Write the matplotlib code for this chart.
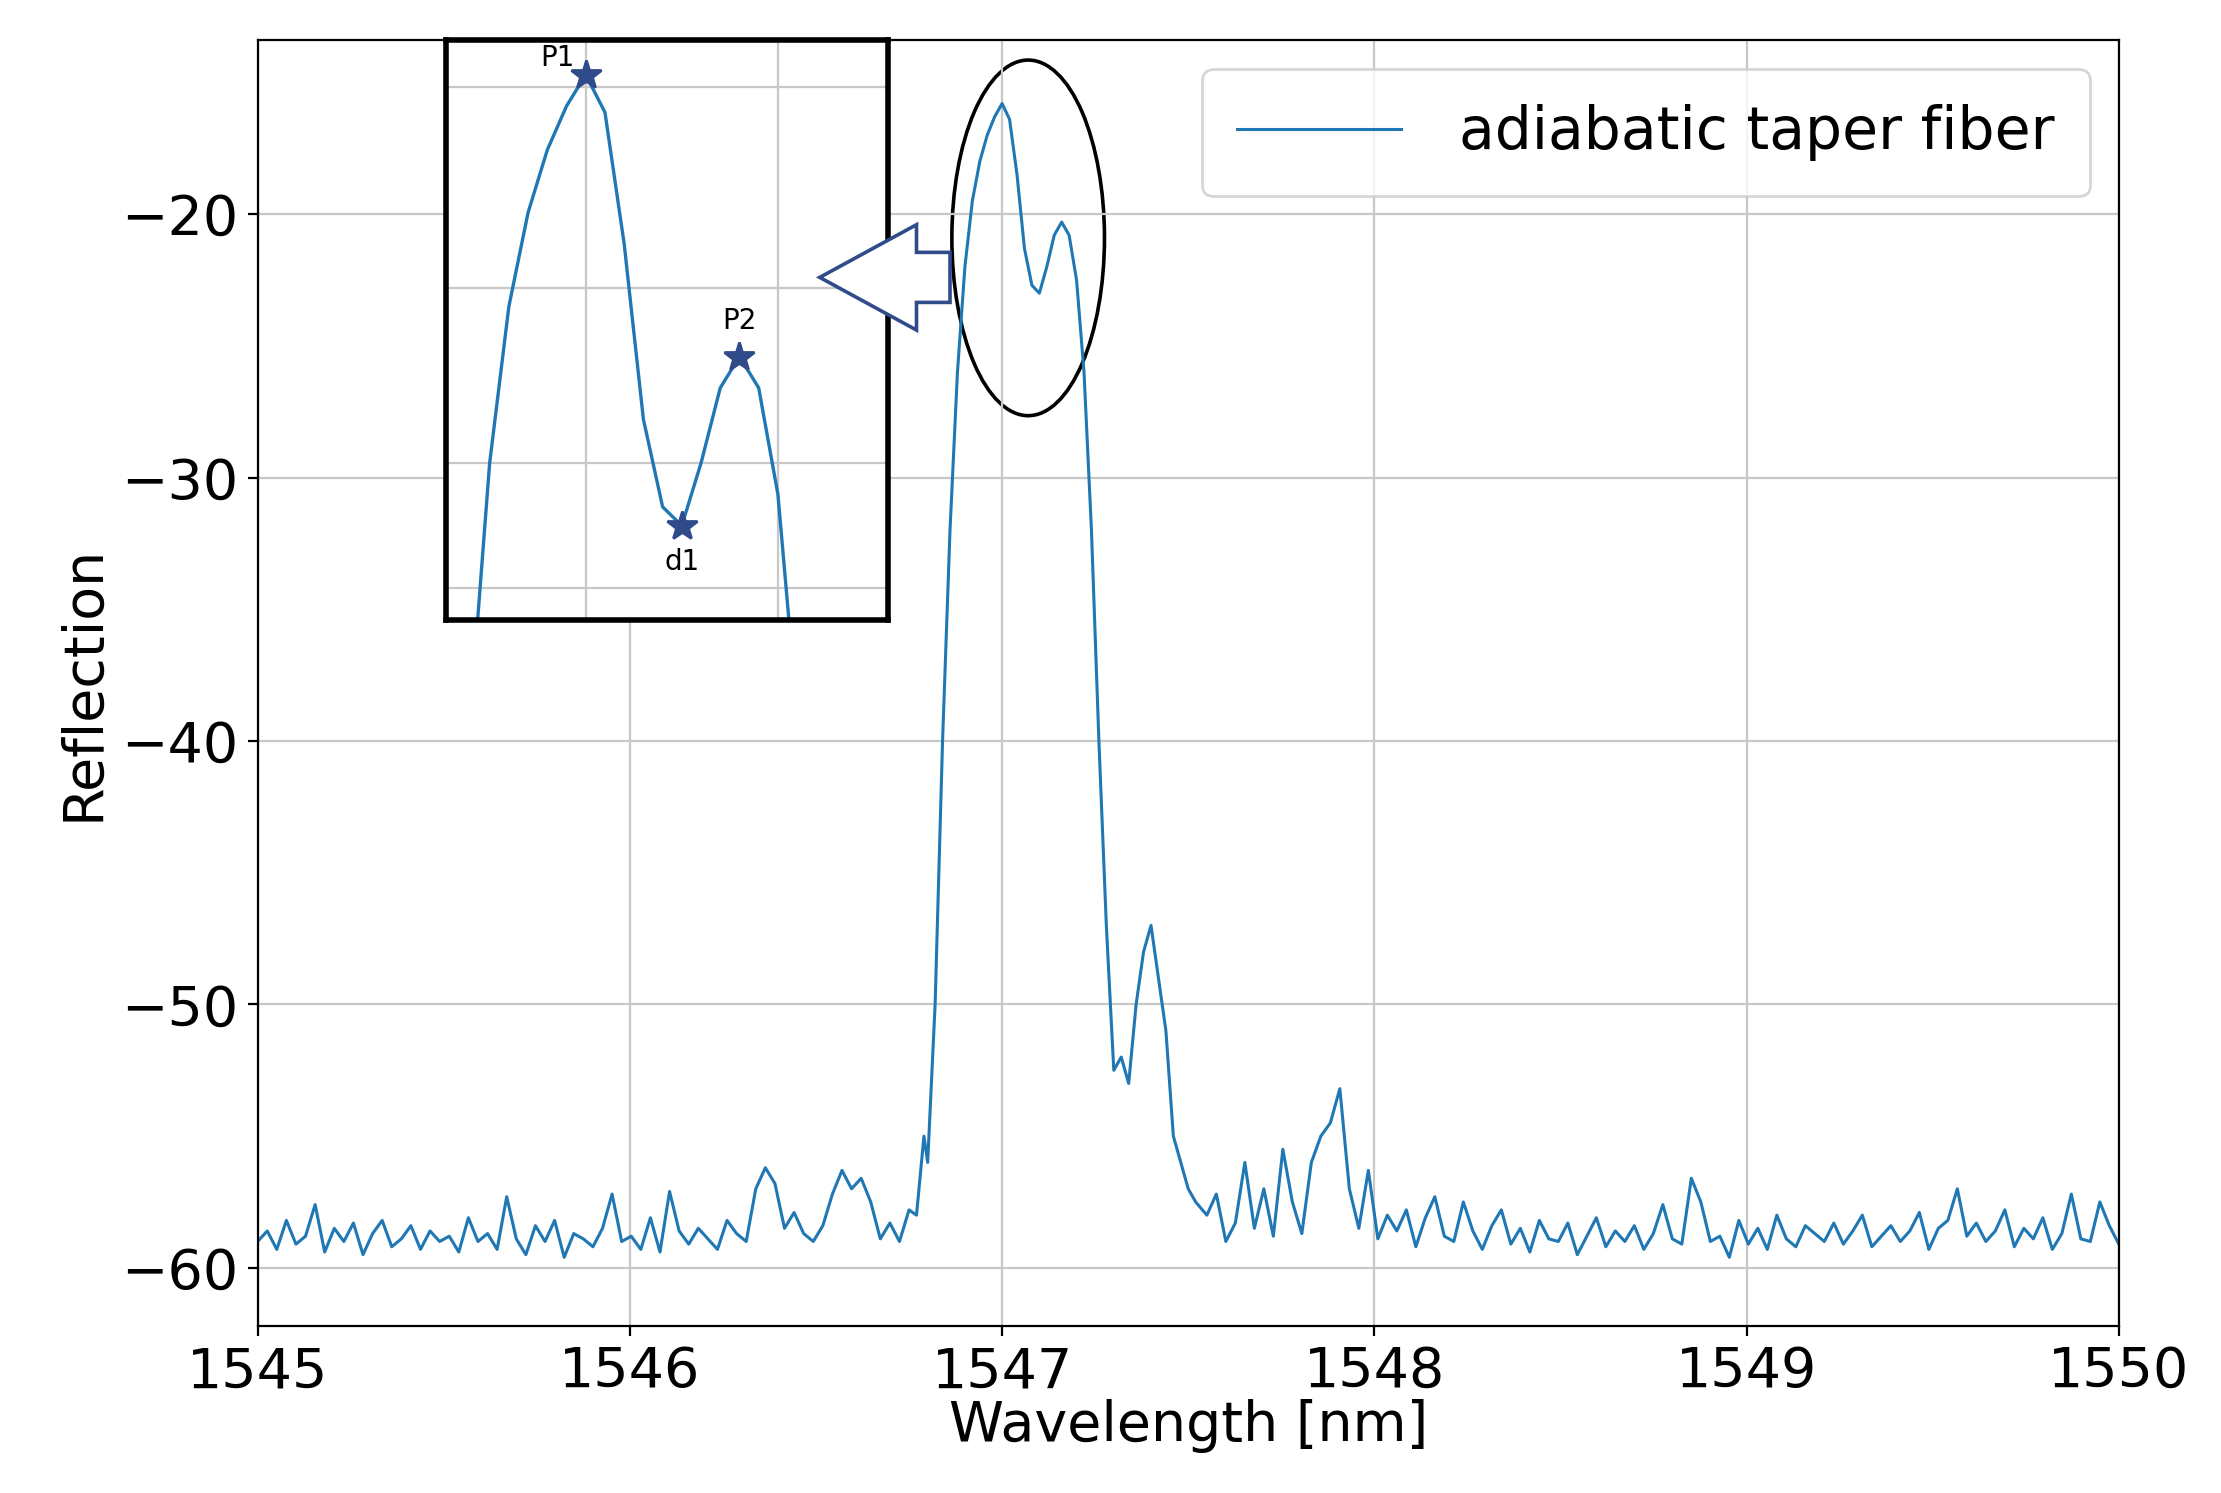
import numpy as np
import matplotlib
matplotlib.use("Agg")
import matplotlib.pyplot as plt
from matplotlib.patches import Ellipse, FancyArrow

left_vals = [-59.0,-58.6,-59.3,-58.2,-59.1,-58.8,-57.6,-59.4,-58.5,-59.0,-58.3,-59.5,-58.7,-58.2,-59.2,-58.9,-58.4,-59.3,-58.6,-59.0,-58.8,-59.4,-58.1,-59.0,-58.7,-59.3,-57.3,-58.9,-59.5,-58.4,-59.0,-58.2,-59.6,-58.7,-58.9,-59.2,-58.5,-57.2,-59.0,-58.8,-59.3,-58.1,-59.4,-57.1,-58.6,-59.1,-58.5,-58.9,-59.3,-58.2,-58.7,-59.0,-57.0,-56.2,-56.8,-58.5,-57.9,-58.7,-59.0,-58.4,-57.2,-56.3,-57.0,-56.6,-57.5,-58.9,-58.3,-59.0,-57.8]
left_start, left_end = 1545.0, 1546.75

peak_wl = [1546.77,1546.79,1546.80,1546.82,1546.84,1546.86,1546.88,1546.90,1546.92,1546.94,1546.96,1546.98,1547.00,1547.02,1547.04,1547.06,1547.08,1547.10,1547.12,1547.14,1547.16,1547.18,1547.20,1547.22,1547.24,1547.26,1547.28,1547.30,1547.32,1547.34,1547.36,1547.38,1547.40,1547.42,1547.44,1547.46,1547.48,1547.50,1547.52]
peak_vals = [-58,-55,-56,-50,-40,-32,-26,-22,-19.5,-18,-17,-16.3,-15.8,-16.4,-18.5,-21.3,-22.7,-23.0,-22.0,-20.8,-20.3,-20.8,-22.5,-26,-32,-40,-47,-52.5,-52,-53,-50,-48,-47,-49,-51,-55,-56,-57,-57.5]

right_vals = [-58.0,-57.2,-59.0,-58.3,-56.0,-58.5,-57.0,-58.8,-55.5,-57.5,-58.7,-56.0,-55.0,-54.5,-53.2,-57.0,-58.5,-56.3,-58.9,-58.0,-58.6,-57.8,-59.2,-58.1,-57.3,-58.8,-59.0,-57.5,-58.6,-59.3,-58.4,-57.8,-59.1,-58.5,-59.4,-58.2,-58.9,-59.0,-58.3,-59.5,-58.8,-58.1,-59.2,-58.6,-59.0,-58.4,-59.3,-58.7,-57.6,-58.9,-59.1,-56.6,-57.5,-59.0,-58.8,-59.6,-58.2,-59.1,-58.5,-59.3,-58.0,-58.9,-59.2,-58.4,-58.7,-59.0,-58.3,-59.1,-58.6,-58.0,-59.2,-58.8,-58.4,-59.0,-58.6,-57.9,-59.3,-58.5,-58.2,-57.0,-58.8,-58.3,-59.0,-58.6,-57.8,-59.2,-58.5,-58.9,-58.1,-59.3,-58.7,-57.2,-58.9,-59.0,-57.5,-58.4,-59.1]
right_start, right_end = 1547.55, 1550.0

x = np.concatenate([np.linspace(left_start, left_end, len(left_vals)), peak_wl,
                    np.linspace(right_start, right_end, len(right_vals))])
y = np.concatenate([left_vals, peak_vals, right_vals])

xticks = [1545, 1546, 1547, 1548, 1549, 1550]
yticks = [-60, -50, -40, -30, -20]
marks = [("P1", 1547.00, -15.8), ("d1", 1547.10, -23.0), ("P2", 1547.16, -20.3)]

color = "#1f77b4"
fig = plt.figure(figsize=(11.105, 7.465), dpi=200)
ax = fig.add_axes([0.116, 0.112, 0.838, 0.861])
ax.plot(x, y, color=color, lw=1.1, label="adiabatic taper fiber")
ax.set_xlim(1545, 1550)
ax.set_ylim(-62.2, -13.4)
ax.set_xticks(xticks)
ax.set_yticks(yticks)
ax.tick_params(labelsize=20)
ax.grid(True, color="#c8c8c8")
ax.set_xlabel("Wavelength [nm]", fontsize=20, labelpad=0)
ax.set_ylabel("Reflection", fontsize=20)
ax.legend(loc="upper right", fontsize=21, handlelength=2.8, handletextpad=1.0, borderpad=0.6)

ax.add_patch(Ellipse((1547.07, -20.9), 0.41, 13.5, fill=False, ec="black", lw=1.3))

ins = fig.add_axes([0.201, 0.585, 0.199, 0.388])
ins.plot(x, y, color=color, lw=1.2)
for name, mx, my in marks:
    ins.plot(mx, my, marker="*", ms=11, color="#2f4b8a")
ins.text(marks[0][1] - 0.012, marks[0][2] + 0.05, "P1", fontsize=10, ha="right", va="bottom")
ins.text(marks[1][1], marks[1][2] - 0.35, "d1", fontsize=10, ha="center", va="top")
ins.text(marks[2][1], marks[2][2] + 0.35, "P2", fontsize=10, ha="center", va="bottom")
ins.set_xlim(1546.855, 1547.315)
ins.set_ylim(-24.5, -15.25)
ins.set_xticks([1547.0, 1547.2])
ins.set_yticks([-24.0, -22.0, -19.2, -16.0])
ins.tick_params(length=0, labelbottom=False, labelleft=False)
ins.grid(True, color="#c8c8c8")
for s in ins.spines.values():
    s.set_linewidth(2)

arrow = FancyArrow(1546.86, -22.4, -0.35, 0, width=1.9, head_width=4.0,
                   head_length=0.26, length_includes_head=True,
                   fc="white", ec="#2f4b8a", lw=1.3,
                   transform=ax.transData, clip_on=False, zorder=10)
ins.add_artist(arrow)
fig.savefig("out.png", dpi=200)
